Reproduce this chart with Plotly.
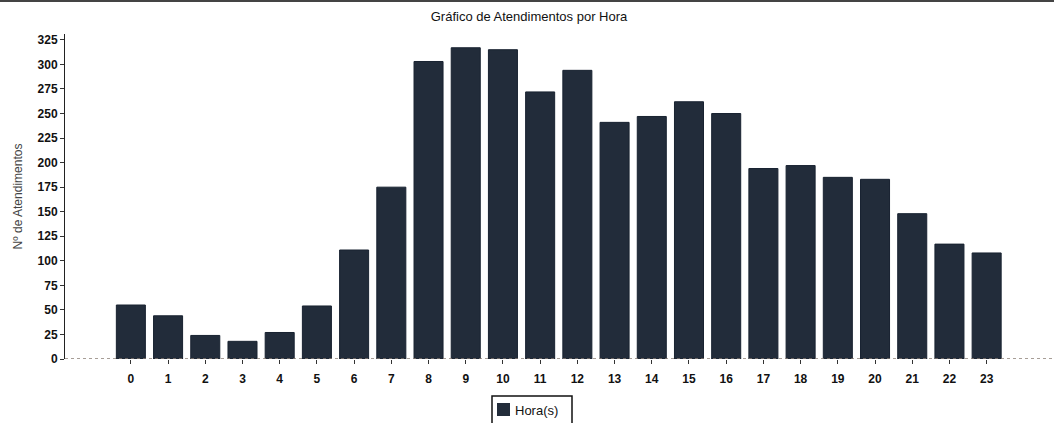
import plotly.graph_objects as go

hours = [str(h) for h in range(24)]
atendimentos = [55, 44, 24, 18, 27, 54, 111, 175, 303, 317, 315, 272, 294, 241,
                247, 262, 250, 194, 197, 185, 183, 148, 117, 108]
y_ticks = list(range(0, 326, 25))
legend_label = "Hora(s)"

W, H = 1054, 423
L, R, T, B = 65, 0, 34, 64
PW, PH = W - L - R, H - T - B
BAR_COLOR = "#222c3a"


def px(xpix):
    return (xpix - L) / PW


def py(ypix):
    return (H - B - ypix) / PH


fig = go.Figure()
fig.add_trace(go.Bar(
    x=list(range(24)), y=atendimentos, name=legend_label,
    marker=dict(color=BAR_COLOR, line=dict(color="#182230", width=1)),
    width=0.78, showlegend=False,
))

fig.update_layout(
    width=W, height=H,
    margin=dict(l=L, r=R, t=T, b=B, autoexpand=False),
    paper_bgcolor="white", plot_bgcolor="white",
    font=dict(family="Liberation Sans, Arial, sans-serif", color="#111"),
    title=dict(text="Gráfico de Atendimentos por Hora", x=529 / W, xanchor="center",
               xref="container", yref="container",
               y=1 - 16 / H, yanchor="middle",
               font=dict(size=13, color="#111")),
    bargap=0.22,
)

fig.update_xaxes(
    range=[-1.77, 24.81], tickmode="array", tickvals=list(range(24)), ticktext=hours,
    showgrid=False, zeroline=False, showline=False, automargin=False,
    ticks="outside", ticklen=4, tickcolor="#333", ticklabelstandoff=5,
    tickfont=dict(size=12, weight="bold", color="#111"),
)
fig.update_yaxes(
    range=[0, 331], tickmode="array", tickvals=y_ticks, automargin=False,
    showgrid=False, zeroline=False, showline=True, linecolor="#222", linewidth=1,
    ticks="outside", ticklen=4, tickcolor="#333",
    tickfont=dict(size=12, weight="bold", color="#111"),
    title=dict(text="Nº de Atendimentos", font=dict(size=12, color="#444"), standoff=12),
)

# dotted baseline at zero across the plot
fig.add_shape(type="line", xref="paper", yref="y", x0=0, x1=1, y0=0, y1=0,
              line=dict(color="#8a7f75", width=1.5, dash="dot"))
# dark scan border at the top of the page
fig.add_shape(type="line", xref="paper", yref="paper",
              x0=px(0), x1=1, y0=py(1), y1=py(1),
              line=dict(color="#444", width=2))

# legend box (drawn to match the compact original legend)
fig.add_shape(type="rect", xref="paper", yref="paper",
              x0=px(492), x1=px(572), y0=py(424), y1=py(396),
              line=dict(color="#111", width=1.5), fillcolor="white")
fig.add_shape(type="rect", xref="paper", yref="paper",
              x0=px(497), x1=px(510), y0=py(416), y1=py(403),
              line=dict(color=BAR_COLOR, width=0), fillcolor=BAR_COLOR)
fig.add_annotation(text=legend_label, xref="paper", yref="paper",
                   x=px(513), y=py(410), xanchor="left", yanchor="middle",
                   showarrow=False, font=dict(size=13, color="#111"))

fig.write_html("out.html", config={"displayModeBar": False},
               post_script="document.body.style.margin='0';")
